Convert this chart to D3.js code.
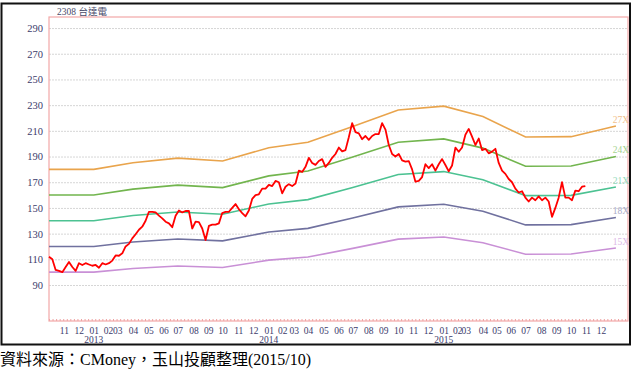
<!DOCTYPE html>
<html>
<head>
<meta charset="utf-8">
<script src="https://cdn.jsdelivr.net/npm/d3@7"></script>
<style>
  body { margin: 0; background: #fff; }
  svg { display: block; }
</style>
</head>
<body>
<div id="chart"></div>
<script>
// months shown on the axis, Oct 2012 .. Dec 2015
const monthLabels = ['10', '11', '12',
  '01', '02', '03', '04', '05', '06', '07', '08', '09', '10', '11', '12',
  '01', '02', '03', '04', '05', '06', '07', '08', '09', '10', '11', '12',
  '01', '02', '03', '04', '05', '06', '07', '08', '09', '10', '11', '12']
// trading days in each month (axis is spaced by trading day)
const tradingDays = [21, 21, 21,
  20, 13, 22, 22, 21, 20, 22, 21, 20, 22, 21, 22,
  19, 16, 20, 22, 21, 20, 22, 21, 21, 21, 21, 22,
  19, 12, 24, 19, 20, 21, 22, 21, 21, 21, 21, 21]
const yearLabels = ['2013', '2014', '2015']
const yearMonthIndex = [3, 15, 27]

const yTicks = [90, 110, 130, 150, 170, 190, 210, 230, 250, 270, 290]

// PE band: quarterly EPS (trailing) at month index breakpoints
const epsMonthIndex = [0, 3, 6, 9, 12, 15, 18, 21, 24, 27, 30, 33, 36, 39]
const eps = [6.667, 6.667, 6.86, 6.99, 6.91, 7.29, 7.45, 7.90, 8.38, 8.49, 8.19, 7.60, 7.61, 7.92]
const multiples = [27, 24, 21, 18, 15]
const bandNames = ['27X', '24X', '21X', '18X', '15X']
const bandColors = ['#e9a44c', '#72b54e', '#4cc292', '#70719f', '#c990d6']
const bandLabelColors = ['#f1c08c', '#a6d28f', '#93d9bb', '#a9aac6', '#dcb8e6']

// closing price 2308, roughly weekly, Oct 2012 .. Oct 2015
const price = [
  112, 110, 101.7, 101, 100, 104, 108, 104, 101, 107, 105.6, 107, 106, 105, 105.6, 103.5,
  107, 106, 107, 109, 113, 112.8, 114.7, 120, 122, 126.3, 129.5, 133, 135.4, 140, 147, 147,
  146.5, 144, 141.9, 139.3, 138, 135, 144, 148, 146.5, 147.6, 147.6, 134, 139.3, 139, 134, 125,
  136, 137, 137, 138, 146, 147, 147, 150, 153, 149, 146, 143.5, 148, 157, 160, 160.6,
  165, 165, 168, 167, 171, 170, 161.4, 166.5, 168.5, 167, 169, 179, 178, 182, 189, 185,
  183.5, 186.5, 188, 182, 185, 189, 192, 197, 194, 195, 205, 216, 209, 208, 203.5, 206,
  203, 206, 207.5, 207.5, 216, 211, 199, 192, 190, 192, 187, 186, 186.5, 180, 170.4, 171,
  174, 184, 181, 184, 179, 184, 188, 183.4, 178.5, 183, 197, 193.7, 197, 207, 211.5, 205.5,
  199, 204, 195, 196, 192.5, 193.8, 196, 185, 179, 176.5, 172.5, 170, 165, 162, 163, 158,
  155, 158, 156, 159, 156, 158, 155, 143, 150, 158, 170, 158, 158, 156, 163.5, 163,
  166.5, 167
]
const priceEndMonth = 37 // data runs to the start of Nov 2015

const width = 638
const height = 370
const plot = { left: 49, top: 17, right: 628, bottom: 321 }
const axisFont = "'Liberation Serif', 'Times New Roman', serif"

// cumulative trading-day index at the start of each month
const monthStart = [0]
tradingDays.forEach((d, i) => monthStart.push(monthStart[i] + d))
const totalDays = monthStart[monthStart.length - 1]

const svg = d3.select('#chart')
  .append('svg')
  .attr('width', width)
  .attr('height', height)

const x = d3.scaleLinear()
  .domain([0, totalDays + 17])
  .range([plot.left, plot.right])

const y = d3.scaleLinear()
  .domain([62, 298.6])
  .range([plot.bottom, plot.top])

// outer frame
svg.append('rect')
  .attr('x', 1.5).attr('y', 3.5)
  .attr('width', 628.5).attr('height', 341)
  .attr('fill', 'none')
  .attr('stroke', '#111')
  .attr('stroke-width', 2)

// grid
svg.append('g')
  .attr('transform', `translate(${plot.left},0)`)
  .call(d3.axisLeft(y).tickValues(yTicks).tickSize(-(plot.right - plot.left)).tickFormat(''))
  .call(g => g.select('.domain').remove())
  .call(g => g.selectAll('line')
    .attr('stroke', '#d6d6d6')
    .attr('stroke-dasharray', '2,1'))

// y labels
svg.append('g')
  .attr('transform', `translate(${plot.left - 3},0)`)
  .call(d3.axisLeft(y).tickValues(yTicks).tickSize(0).tickFormat(d3.format('d')))
  .call(g => g.select('.domain').remove())
  .call(g => g.selectAll('text')
    .attr('fill', '#3b3b6b')
    .style('font-family', axisFont)
    .style('font-size', '10.5px'))

// weekly minor ticks on the bottom axis
const minorTicks = d3.range(0, totalDays + 17, 5)
svg.append('g')
  .attr('transform', `translate(0,${plot.bottom})`)
  .call(d3.axisBottom(x).tickValues(minorTicks).tickSize(-2).tickFormat(''))
  .call(g => g.select('.domain').remove())
  .call(g => g.selectAll('line').attr('stroke', '#eea0a0'))

// plot border (pink)
svg.append('rect')
  .attr('x', plot.left).attr('y', plot.top)
  .attr('width', plot.right - plot.left)
  .attr('height', plot.bottom - plot.top)
  .attr('fill', 'none')
  .attr('stroke', '#f2a7a7')
  .attr('stroke-width', 1.2)

// month labels
svg.append('g')
  .attr('transform', `translate(0,${plot.bottom})`)
  .call(d3.axisBottom(x)
    .tickValues(monthStart.slice(1, monthLabels.length))
    .tickSize(0)
    .tickPadding(6)
    .tickFormat((d, i) => monthLabels[i + 1]))
  .call(g => g.select('.domain').remove())
  .call(g => g.selectAll('text')
    .attr('fill', '#3b3b6b')
    .style('font-family', axisFont)
    .style('font-size', '9.5px'))

// year labels
svg.append('g')
  .selectAll('text')
  .data(yearLabels)
  .enter()
  .append('text')
  .attr('x', (d, i) => x(monthStart[yearMonthIndex[i]]))
  .attr('y', plot.bottom + 22)
  .attr('text-anchor', 'middle')
  .attr('fill', '#3b3b6b')
  .style('font-family', axisFont)
  .style('font-size', '9.5px')
  .text(d => d)

// PE band lines
const bandLine = d3.line()
  .x(d => x(monthStart[d.m]))
  .y(d => y(d.v))

const bands = multiples.map((k, bi) => ({
  name: bandNames[bi],
  color: bandColors[bi],
  labelColor: bandLabelColors[bi],
  points: epsMonthIndex.map((m, i) => ({ m: m, v: eps[i] * k }))
}))

svg.append('g')
  .selectAll('path')
  .data(bands)
  .enter()
  .append('path')
  .attr('d', d => bandLine(d.points))
  .attr('fill', 'none')
  .attr('stroke', d => d.color)
  .attr('stroke-width', 1.6)

svg.append('g')
  .selectAll('text')
  .data(bands)
  .enter()
  .append('text')
  .attr('x', plot.right + 1)
  .attr('y', d => y(d.points[d.points.length - 1].v) - 3)
  .attr('text-anchor', 'end')
  .attr('fill', d => d.labelColor)
  .style('font-family', axisFont)
  .style('font-size', '9.5px')
  .text(d => d.name)

// price line
const priceX = d3.scaleLinear()
  .domain([0, price.length - 1])
  .range([x(0), x(monthStart[priceEndMonth] - 1)])

svg.append('path')
  .datum(price)
  .attr('d', d3.line().x((d, i) => priceX(i)).y(d => y(d)))
  .attr('fill', 'none')
  .attr('stroke', '#ff0000')
  .attr('stroke-width', 1.8)
  .attr('stroke-linejoin', 'round')

// title
svg.append('text')
  .attr('x', 57)
  .attr('y', 15)
  .attr('fill', '#4a4a6a')
  .style('font-family', "'Liberation Serif', 'Noto Sans CJK TC', serif")
  .style('font-size', '9.5px')
  .text('2308 台達電')

// source note
svg.append('text')
  .attr('x', 0)
  .attr('y', 365)
  .attr('fill', '#000')
  .style('font-family', "'Liberation Serif', 'Noto Sans CJK TC', serif")
  .style('font-size', '16px')
  .text('資料來源：CMoney，玉山投顧整理(2015/10)')
</script>
</body>
</html>
